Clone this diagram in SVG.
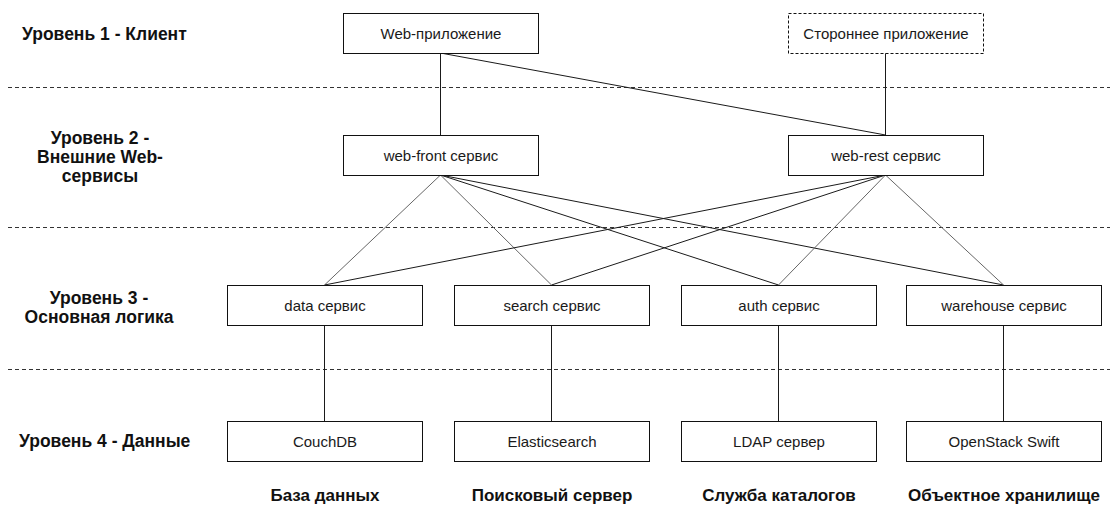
<svg xmlns="http://www.w3.org/2000/svg" width="1115" height="507" viewBox="0 0 1115 507">
  <style>
    .box { fill: #ffffff; stroke: #111111; stroke-width: 1; }
    .box-ext { fill: #ffffff; stroke: #111111; stroke-width: 1; stroke-dasharray: 3 2; }
    .node-text { font-family: "Liberation Sans", Arial, sans-serif; font-size: 15px; fill: #1a1a1a; text-anchor: middle; }
    .level { font-family: "Liberation Sans", Arial, sans-serif; font-size: 17.5px; font-weight: bold; fill: #111111; }
    .level-c { text-anchor: middle; }
    .caption { font-family: "Liberation Sans", Arial, sans-serif; font-size: 17px; font-weight: bold; fill: #111111; text-anchor: middle; }
    .sep { stroke: #333333; stroke-width: 1; stroke-dasharray: 4 3; fill: none; }
    .link { stroke: #1a1a1a; stroke-width: 1; fill: none; }
    .link-near { stroke: #666666; stroke-width: 1; fill: none; }
  </style>

  <!-- layer separators -->
  <g id="separators">
    <line class="sep" x1="8" y1="87.5" x2="1110" y2="87.5"/>
    <line class="sep" x1="8" y1="227.5" x2="1110" y2="227.5"/>
    <line class="sep" x1="8" y1="369.5" x2="1110" y2="369.5"/>
  </g>

  <!-- layer titles -->
  <g id="level-titles">
    <text class="level" x="22" y="40">Уровень 1 - Клиент</text>
    <text class="level level-c" x="100" y="144">Уровень 2 -</text>
    <text class="level level-c" x="100" y="163">Внешние Web-</text>
    <text class="level level-c" x="100" y="182">сервисы</text>
    <text class="level level-c" x="99" y="304">Уровень 3 -</text>
    <text class="level level-c" x="99" y="323">Основная логика</text>
    <text class="level" x="19" y="447">Уровень 4 - Данные</text>
  </g>

  <!-- connectors -->
  <g id="connectors">
    <line class="link" x1="440.5" y1="53" x2="440.5" y2="135"/>
    <line class="link" x1="440.5" y1="53" x2="885.5" y2="135"/>
    <line class="link" x1="885.5" y1="53" x2="885.5" y2="135"/>

    <line class="link-near" x1="440.5" y1="175" x2="324.5" y2="285"/>
    <line class="link-near" x1="440.5" y1="175" x2="551.5" y2="285"/>
    <line class="link" x1="440.5" y1="175" x2="778.5" y2="285"/>
    <line class="link" x1="440.5" y1="175" x2="1003.5" y2="285"/>

    <line class="link" x1="885.5" y1="175" x2="324.5" y2="285"/>
    <line class="link" x1="885.5" y1="175" x2="551.5" y2="285"/>
    <line class="link-near" x1="885.5" y1="175" x2="778.5" y2="285"/>
    <line class="link-near" x1="885.5" y1="175" x2="1003.5" y2="285"/>

    <line class="link" x1="324.5" y1="325" x2="324.5" y2="421"/>
    <line class="link" x1="551.5" y1="325" x2="551.5" y2="421"/>
    <line class="link" x1="778.5" y1="325" x2="778.5" y2="421"/>
    <line class="link" x1="1003.5" y1="325" x2="1003.5" y2="421"/>
  </g>

  <!-- level 1 -->
  <g id="web-app">
    <rect class="box" x="343.5" y="13.5" width="195" height="40"/>
    <text class="node-text" x="441" y="39">Web-приложение</text>
  </g>
  <g id="third-party-app">
    <rect class="box-ext" x="788.5" y="13.5" width="195" height="40"/>
    <text class="node-text" x="886" y="39">Стороннее приложение</text>
  </g>

  <!-- level 2 -->
  <g id="web-front">
    <rect class="box" x="343.5" y="135.5" width="195" height="40"/>
    <text class="node-text" x="441" y="161">web-front сервис</text>
  </g>
  <g id="web-rest">
    <rect class="box" x="788.5" y="135.5" width="195" height="40"/>
    <text class="node-text" x="886" y="161">web-rest сервис</text>
  </g>

  <!-- level 3 -->
  <g id="data-service">
    <rect class="box" x="227.5" y="285.5" width="195" height="40"/>
    <text class="node-text" x="325" y="311">data сервис</text>
  </g>
  <g id="search-service">
    <rect class="box" x="454.5" y="285.5" width="195" height="40"/>
    <text class="node-text" x="552" y="311">search сервис</text>
  </g>
  <g id="auth-service">
    <rect class="box" x="681.5" y="285.5" width="195" height="40"/>
    <text class="node-text" x="779" y="311">auth сервис</text>
  </g>
  <g id="warehouse-service">
    <rect class="box" x="906.5" y="285.5" width="195" height="40"/>
    <text class="node-text" x="1004" y="311">warehouse сервис</text>
  </g>

  <!-- level 4 -->
  <g id="couchdb">
    <rect class="box" x="227.5" y="421.5" width="195" height="40"/>
    <text class="node-text" x="325" y="447">CouchDB</text>
  </g>
  <g id="elasticsearch">
    <rect class="box" x="454.5" y="421.5" width="195" height="40"/>
    <text class="node-text" x="552" y="447">Elasticsearch</text>
  </g>
  <g id="ldap">
    <rect class="box" x="681.5" y="421.5" width="195" height="40"/>
    <text class="node-text" x="779" y="447">LDAP сервер</text>
  </g>
  <g id="swift">
    <rect class="box" x="906.5" y="421.5" width="195" height="40"/>
    <text class="node-text" x="1004" y="447">OpenStack Swift</text>
  </g>

  <!-- storage role captions -->
  <g id="captions">
    <text class="caption" x="325" y="501">База данных</text>
    <text class="caption" x="552" y="501">Поисковый сервер</text>
    <text class="caption" x="779" y="501">Служба каталогов</text>
    <text class="caption" x="1004" y="501">Объектное хранилище</text>
  </g>
</svg>
